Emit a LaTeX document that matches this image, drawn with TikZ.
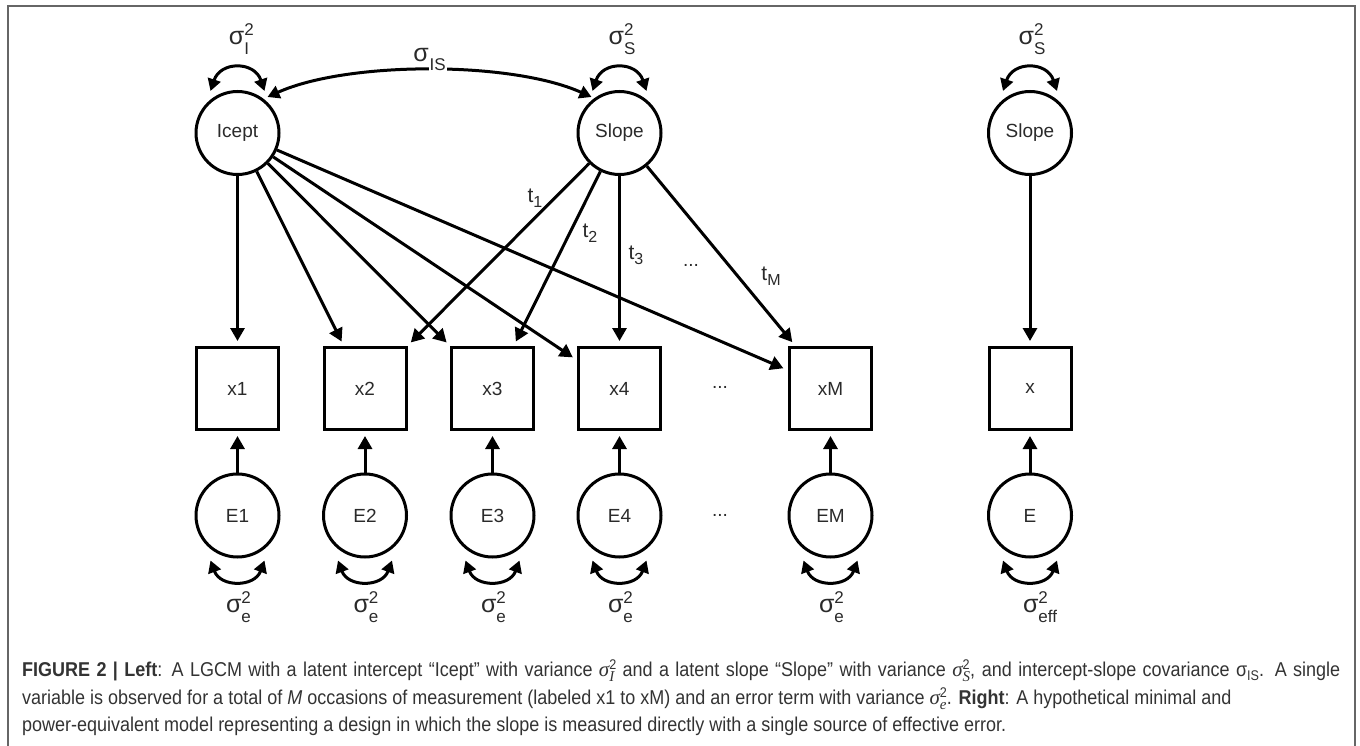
\documentclass[tikz,border=0pt]{standalone}
\usepackage{fontspec}
\setmainfont{Liberation Sans}
\newfontfamily\capfont{Liberation Sans}[FakeStretch=0.9]
\newfontfamily\capmath{Liberation Serif}
\usetikzlibrary{arrows.meta,calc}
\definecolor{txt}{HTML}{2A2A2A}
\definecolor{captxt}{HTML}{333333}
\definecolor{framecol}{HTML}{666666}
\newcommand\bigsig{{\fontsize{25}{25}\selectfont σ}}
\newcommand\smallf{\fontsize{17}{17}\selectfont}
% sigma with superscript 2 and subscript #1
\newcommand\sigvar[1]{\bigsig\rlap{\raisebox{9pt}{\smallf 2}}\raisebox{-10pt}{\smallf #1}}
\newcommand\tlab[1]{{\fontsize{21}{21}\selectfont t}\raisebox{-5pt}{\fontsize{16}{16}\selectfont #1}}
% caption sigma (italic) with stacked sup/sub
\newlength\wsup \newlength\wsub
\newcommand\supsub[2]{\settowidth\wsup{#1}\settowidth\wsub{#2}%
  \rlap{\raisebox{7pt}{#1}}\rlap{\raisebox{-5pt}{#2}}%
  \ifdim\wsup>\wsub\hspace{\wsup}\else\hspace{\wsub}\fi}
\newcommand\csig[1]{{\capmath\itshape\fontsize{21}{21}\selectfont σ}%
  \supsub{\capfont\fontsize{14}{14}\selectfont 2}{\capmath\itshape\fontsize{15}{15}\selectfont #1}}
\tikzset{
  lat/.style={circle,draw,line width=3pt,minimum size=83pt,inner sep=0pt,
    font=\fontsize{19}{19}\selectfont,text=txt},
  obs/.style={rectangle,draw,line width=3pt,minimum size=82pt,inner sep=0pt,
    font=\fontsize{19}{19}\selectfont,text=txt},
  reg/.style={line width=3pt,-{Triangle[length=13pt,width=14pt]},shorten >=5pt},
  dbl/.style={line width=3pt,{Triangle[length=12pt,width=13pt]}-{Triangle[length=12pt,width=13pt]}},
  lbl/.style={text=txt,inner sep=0pt},
  dots/.style={text=txt,inner sep=0pt,font=\fontsize{19}{19}\selectfont},
  capl/.style={anchor=base west,inner sep=0pt,text=captxt,font=\capfont\fontsize{20}{20}\selectfont}
}
\begin{document}
\begin{tikzpicture}[x=1pt,y=-1pt]
\useasboundingbox (0,0) rectangle (1360,746);
\draw[framecol,line width=2pt] (7.5,746) -- (7.5,6.5) -- (1355,6.5) -- (1355,746);

% latent factors
\node[lat] (I) at (237.5,133) {Icept};
\node[lat] (S) at (619.5,133) {Slope};
\node[lat] (SR) at (1030,133) {Slope};

% observed
\node[obs] (x1) at (237.5,388.5) {x1};
\node[obs] (x2) at (365,388.5) {x2};
\node[obs] (x3) at (492.5,388.5) {x3};
\node[obs] (x4) at (619.5,388.5) {x4};
\node[obs] (xM) at (830.5,388.5) {xM};
\node[obs] (x) at (1030,388.5) {x};

% errors
\node[lat] (E1) at (237.5,515.5) {E1};
\node[lat] (E2) at (365,515.5) {E2};
\node[lat] (E3) at (492.5,515.5) {E3};
\node[lat] (E4) at (619.5,515.5) {E4};
\node[lat] (EM) at (830.5,515.5) {EM};
\node[lat] (E) at (1030,515.5) {E};

\node[dots] (d1) at (720,387) {...};
\node[dots] (d2) at (720,515) {...};
\node[dots] (d3) at (691,265) {...};

% regressions from intercept
\foreach \t in {x1,x2,x3,x4,xM} \draw[reg] (I) -- (\t);
% regressions from slope
\foreach \t in {x2,x3,x4,xM} \draw[reg] (S) -- (\t);
\draw[reg] (SR) -- (x);
% errors
\foreach \e/\t in {E1/x1,E2/x2,E3/x3,E4/x4,EM/xM,E/x} \draw[reg] (\e) -- (\t);

% loading labels
\node[lbl] (t1) at (535,198) {\tlab{1}};
\node[lbl] (t2) at (590,233) {\tlab{2}};
\node[lbl] (t3) at (636,255) {\tlab{3}};
\node[lbl] (tM) at (771,276) {\tlab{M}};

% variances top
\foreach \n in {I,S,SR}
  \draw[dbl] ($(\n)+(-27,-42)$) .. controls +(10,-30) and +(-10,-30) .. ($(\n)+(27,-42)$);
\node[lbl,anchor=base] (vI) at (239,45) {\sigvar{I}};
\node[lbl,anchor=base] (vS) at (622,45) {\sigvar{S}};
\node[lbl,anchor=base] (vSR) at (1032,45) {\sigvar{S}};

% covariance
\draw[dbl] ($(I)+(30,-36)$) .. controls +(80,-36) and +(-80,-36) .. ($(S)+(-28,-36)$);
\node[lbl,anchor=base] (cIS) at (430,62) {\bigsig\raisebox{-9pt}{\setlength\fboxsep{1pt}\colorbox{white}{\smallf IS}}};

% variances bottom
\foreach \n in {E1,E2,E3,E4,EM,E}
  \draw[dbl] ($(\n)+(-27,45)$) .. controls +(10,27) and +(-10,27) .. ($(\n)+(27,45)$);
\foreach \n/\xx in {1/237.5,2/365,3/492.5,4/619.5,M/830.5}
  \node[lbl,anchor=base] (ve\n) at (\xx+1,612) {\sigvar{e}};
\node[lbl,anchor=base] (veff) at (1040,612) {\sigvar{eff}};

% caption
\node[capl] (c1) at (22,676) {\makebox[1318pt][s]{\textbf{FIGURE 2 | Left}: A LGCM with a latent intercept “Icept” with variance \csig{I} and a latent slope “Slope” with variance \csig{S}, and intercept-slope covariance σ\raisebox{-4pt}{\fontsize{14}{14}\selectfont IS}. A single}};
\node[capl] (c2) at (22,704) {variable is observed for a total of \textit{M} occasions of measurement (labeled x1 to xM) and an error term with variance \csig{e}. \textbf{Right}: A hypothetical minimal and};
\node[capl] (c3) at (22,731) {power-equivalent model representing a design in which the slope is measured directly with a single source of effective error.};
\end{tikzpicture}
\end{document}
